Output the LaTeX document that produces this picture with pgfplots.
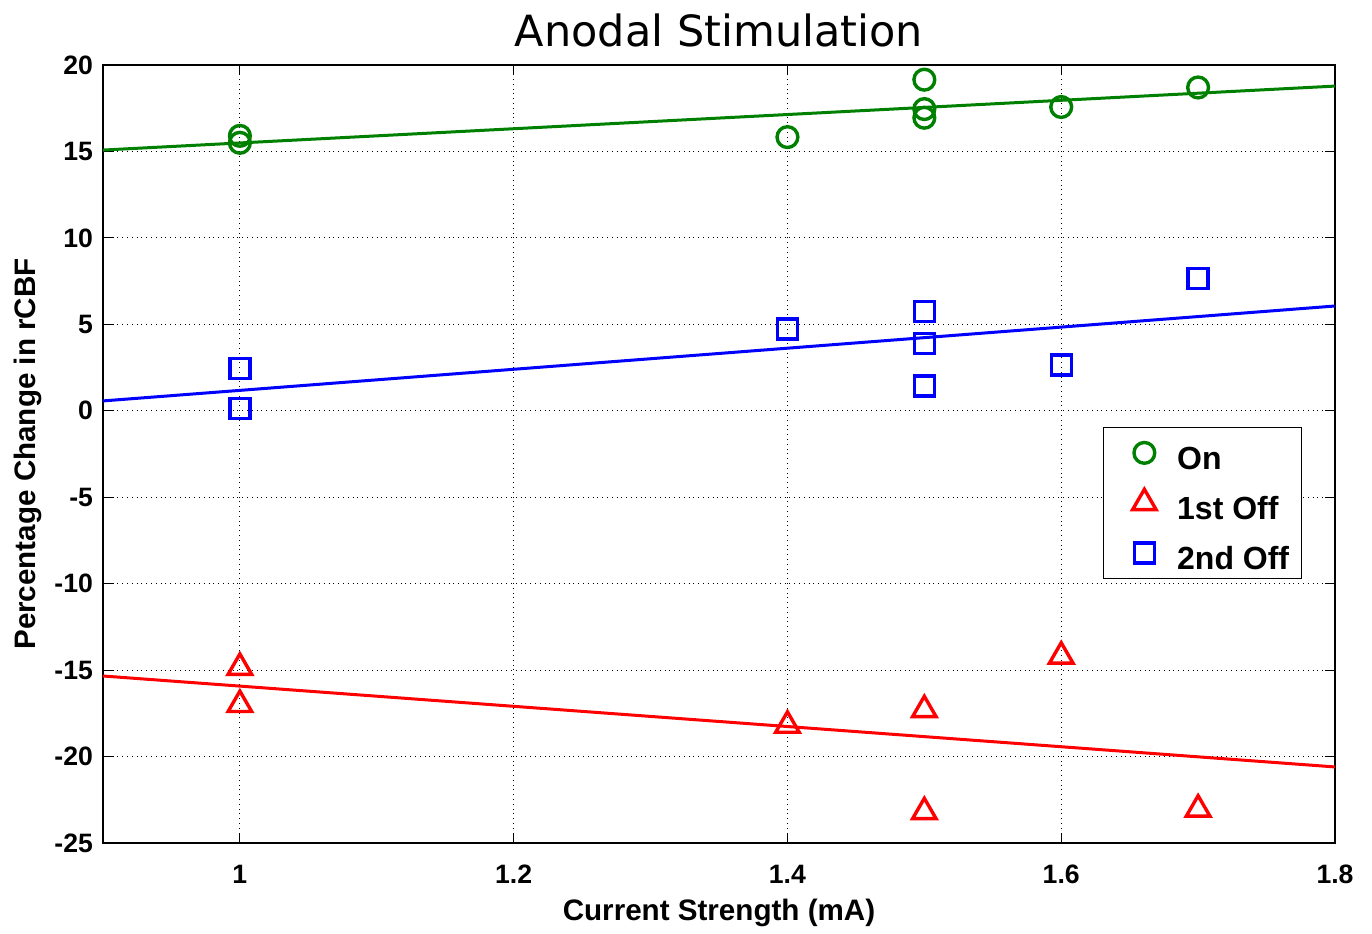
\documentclass[border=0pt]{standalone}
\usepackage{pgfplots}
\pgfplotsset{compat=1.18}
\usepackage{fontspec}
\setmainfont{Liberation Sans}
\newfontfamily\titlefont{DejaVu Sans}
\definecolor{mgreen}{rgb}{0,0.5,0}
\begin{document}
\begin{tikzpicture}
\begin{axis}[
  scale only axis,
  width=616pt, height=389pt,
  xmin=0.9, xmax=1.8, ymin=-25, ymax=20,
  xtick={1,1.2,1.4,1.6,1.8},
  ytick={-25,-20,-15,-10,-5,0,5,10,15,20},
  xticklabels={1,1.2,1.4,1.6,1.8},
  yticklabels={-25,-20,-15,-10,-5,0,5,10,15,20},
  tick align=inside,
  major tick length=5pt,
  tick style={black, line width=0.6pt},
  axis line style={black, line width=0.6pt},
  grid=major,
  grid style={black, dotted, line width=0.6pt},
  ticklabel style={font=\fontsize{13.3}{15}\selectfont\bfseries},
  xticklabel style={yshift=-7.5pt},
  yticklabel style={xshift=-1.5pt},
  title={\titlefont\fontsize{21.5}{24}\selectfont Anodal Stimulation},
  title style={at={(axis description cs:0.5,1)}, anchor=center, yshift=11.5pt, inner sep=0pt},
  xlabel={\fontsize{14.8}{17}\selectfont\bfseries Current Strength (mA)},
  ylabel={\fontsize{14.8}{17}\selectfont\bfseries Percentage Change in rCBF},
  xlabel style={at={(axis description cs:0.5,0)}, anchor=center, yshift=-35pt},
  ylabel style={at={(axis description cs:0,0.5)}, anchor=center, yshift=37.5pt},
  legend style={at={(0.973,0.535)}, anchor=north east, draw=black, line width=0.6pt,
    font=\fontsize{16}{18}\selectfont\bfseries, row sep=3.5pt, column sep=10pt,
    inner xsep=5.5pt, inner ysep=2pt,
    nodes={text height=18.8pt, text depth=1.7pt, inner sep=0.5pt}},
  legend cell align=left,
  legend image code/.code={\path (0pt,0pt); \draw[mark repeat=2,mark phase=2,#1] plot coordinates {(0pt,0pt) (14pt,0pt) (28pt,0pt)};},
  legend image post style={line width=1.7pt},
]
\addplot[only marks, mgreen, mark=o, mark size=5.2pt, line width=1.7pt] coordinates {
(1,15.9) (1,15.5) (1.4,15.83) (1.5,19.15) (1.5,17.45) (1.5,16.95) (1.6,17.57) (1.7,18.7)};
\addlegendentry{On}
\addplot[only marks, red, mark=triangle, mark size=6.8pt, line width=1.7pt] coordinates {
(1,-14.85) (1,-17.0) (1.4,-18.2) (1.5,-17.3) (1.5,-23.2) (1.6,-14.2) (1.7,-23.05)};
\addlegendentry{1st Off}
\addplot[only marks, blue, mark=square, mark size=5pt, line width=1.7pt] coordinates {
(1,2.46) (1,0.14) (1.4,4.73) (1.5,5.73) (1.5,3.9) (1.5,1.43) (1.6,2.65) (1.7,7.66)};
\addlegendentry{2nd Off}
\addplot[forget plot, mgreen, line width=1.5pt] coordinates {(0.9,15.08) (1.8,18.78)};
\addplot[forget plot, red, line width=1.5pt] coordinates {(0.9,-15.34) (1.8,-20.6)};
\addplot[forget plot, blue, line width=1.5pt] coordinates {(0.9,0.57) (1.8,6.06)};
\end{axis}
\path ([xshift=-51.5pt,yshift=-45pt]current axis.south west) rectangle ([xshift=18.5pt,yshift=32.5pt]current axis.north east);
\end{tikzpicture}
\end{document}
